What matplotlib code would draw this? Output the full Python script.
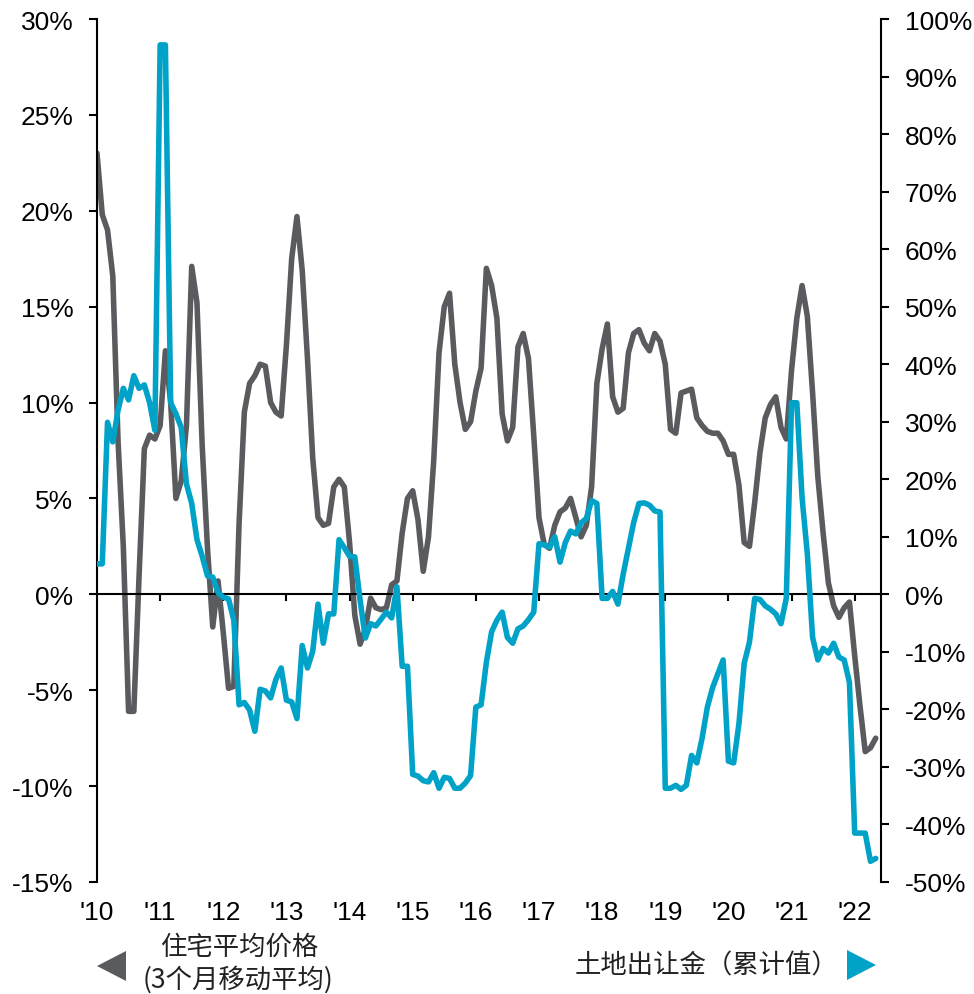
import numpy as np
import matplotlib

matplotlib.use('Agg')
import matplotlib.pyplot as plt
from matplotlib.patches import Polygon

plt.rcParams['font.family'] = ['Liberation Sans', 'DejaVu Sans']

# monthly, Jan 2010 .. May 2022
years = ["'10", "'11", "'12", "'13", "'14", "'15", "'16",
         "'17", "'18", "'19", "'20", "'21", "'22"]

# 住宅平均价格 (3个月移动平均), yoy %, left axis
house_price = [
    23.0, 19.8, 19.0, 16.6, 8.0, 2.5, -6.1, -6.1, 1.0, 7.6, 8.3, 8.1,
    8.8, 12.7, 10.0, 5.0, 5.9, 8.8, 17.1, 15.2, 7.7, 2.4, -1.7, 0.7,
    -2.0, -4.9, -4.8, 3.7, 9.5, 11.0, 11.4, 12.0, 11.9, 10.0, 9.5, 9.3,
    13.0, 17.5, 19.7, 16.9, 12.3, 7.1, 4.0, 3.6, 3.7, 5.6, 6.0, 5.6,
    2.7, -1.1, -2.6, -1.8, -0.2, -0.7, -0.8, -0.7, 0.5, 0.7, 3.2, 5.0,
    5.4, 3.9, 1.2, 3.0, 7.0, 12.6, 15.0, 15.7, 12.0, 10.0, 8.6, 9.0,
    10.6, 11.8, 17.0, 16.1, 14.4, 9.4, 8.0, 8.7, 12.9, 13.6, 12.3, 8.3,
    4.0, 2.6, 2.4, 3.6, 4.3, 4.5, 5.0, 4.0, 3.0, 3.6, 5.6, 11.0,
    12.8, 14.1, 10.3, 9.5, 9.7, 12.6, 13.6, 13.8, 13.1, 12.7, 13.6, 13.2,
    12.0, 8.6, 8.4, 10.5, 10.6, 10.7, 9.2, 8.8, 8.5, 8.4, 8.4, 8.0,
    7.3, 7.3, 5.7, 2.7, 2.5, 4.8, 7.4, 9.2, 9.9, 10.3, 8.7, 8.1,
    11.7, 14.4, 16.1, 14.5, 10.5, 6.1, 3.2, 0.6, -0.6, -1.2, -0.7, -0.4,
    -3.2, -5.8, -8.2, -8.0, -7.5,
]

# 土地出让金 (累计值), yoy %, right axis
land_sales = [
    5.3, 5.3, 29.9, 26.5, 32.0, 35.8, 33.8, 38.0, 35.8, 36.4, 33.3, 28.5,
    95.5, 95.5, 33.3, 31.4, 29.0, 19.2, 15.8, 9.5, 6.6, 3.2, 3.0, 0.3,
    -0.5, -0.8, -4.5, -19.2, -18.8, -20.1, -23.8, -16.5, -16.8, -18.0, -14.8, -12.8,
    -18.4, -18.7, -21.6, -8.9, -12.8, -9.9, -1.7, -8.5, -3.4, -3.4, 9.5, 8.1,
    6.6, 6.5, -1.0, -7.6, -5.1, -5.5, -4.3, -3.1, -4.1, 1.3, -12.5, -12.5,
    -31.3, -31.6, -32.4, -32.6, -31.0, -33.7, -31.8, -32.0, -33.7, -33.7, -32.8, -31.5,
    -19.6, -19.2, -11.8, -6.5, -4.5, -3.1, -7.5, -8.5, -6.0, -5.5, -4.4, -3.1,
    8.8, 8.6, 8.2, 10.0, 5.6, 9.0, 11.0, 10.5, 12.4, 13.2, 16.3, 15.8,
    -0.7, -0.7, 0.5, -1.7, 3.5, 8.0, 12.5, 15.8, 15.9, 15.5, 14.5, 14.3,
    -33.7, -33.7, -33.2, -33.9, -33.2, -28.0, -29.3, -25.0, -19.6, -16.2, -13.8, -11.4,
    -29.0, -29.3, -22.5, -12.0, -8.3, -0.7, -0.9, -2.0, -2.6, -3.4, -5.1, -0.7,
    33.3, 33.3, 16.8, 7.0, -7.5, -11.4, -9.4, -10.2, -8.5, -10.9, -11.4, -15.3,
    -41.5, -41.5, -41.5, -46.4, -45.9,
]

GREY = '#595b5e'
TEAL = '#00a2c7'
W, H = 974, 995

fig = plt.figure(figsize=(W / 100, H / 100), dpi=100)
ax = fig.add_axes([97 / W, 1 - 883 / H, (881 - 97) / W, (883 - 20) / H])
ax2 = ax.twinx()

x = np.arange(len(house_price))
ax.plot(x, house_price, color=GREY, lw=4.0, solid_joinstyle='round',
        solid_capstyle='round')
ax2.plot(np.arange(len(land_sales)), land_sales, color=TEAL, lw=4.0,
         solid_joinstyle='round', solid_capstyle='round')

ax.set_xlim(0, 149)
ax.set_ylim(-15, 30)
ax2.set_ylim(-50, 100)

ax.set_yticks(range(-15, 31, 5))
ax.set_yticklabels([f'{v}%' for v in range(-15, 31, 5)])
ax2.set_yticks(range(-50, 101, 10))
ax2.set_yticklabels([f'{v}%' for v in range(-50, 101, 10)])

for a in (ax, ax2):
    a.spines['top'].set_visible(False)
    a.patch.set_visible(False)
ax.spines['right'].set_visible(False)
ax2.spines['left'].set_visible(False)
ax2.spines['bottom'].set_visible(False)
ax.spines['bottom'].set_position(('data', 0))
for s in ('left', 'bottom'):
    ax.spines[s].set_linewidth(1.5)
ax2.spines['right'].set_linewidth(1.5)

ax.set_xticks(range(12, 145, 12))
ax.tick_params(axis='x', direction='out', length=5, width=1.5, labelbottom=False)
ax.tick_params(axis='y', direction='out', length=6, width=1.5, labelsize=19, pad=11)
ax2.tick_params(axis='y', direction='out', length=6, width=1.5, labelsize=19, pad=11)

sec = ax.secondary_xaxis('bottom')
sec.set_xticks(range(0, 145, 12), labels=years)
sec.tick_params(length=0, pad=13, labelsize=19)
sec.spines['bottom'].set_visible(False)

cjk = ['Noto Sans CJK SC', 'DejaVu Sans']
fig.text(239 / W, 1 - 947 / H, '住宅平均价格', ha='center', va='center',
         fontsize=19, family=cjk, color='#222222')
fig.text(238 / W, 1 - 980 / H, '(3个月移动平均)', ha='center', va='center',
         fontsize=19, family=cjk, color='#222222')
fig.text(707 / W, 1 - 966 / H, '土地出让金（累计值）', ha='center', va='center',
         fontsize=19, family=cjk, color='#222222')

def tri(pts, color):
    p = Polygon([(px / W, 1 - py / H) for px, py in pts], closed=True,
                facecolor=color, edgecolor='none', transform=fig.transFigure)
    fig.patches.append(p)

tri([(97, 967), (126, 952), (126, 982)], GREY)
tri([(876, 966), (847, 951), (847, 981)], TEAL)

fig.savefig('out.png', dpi=100)
